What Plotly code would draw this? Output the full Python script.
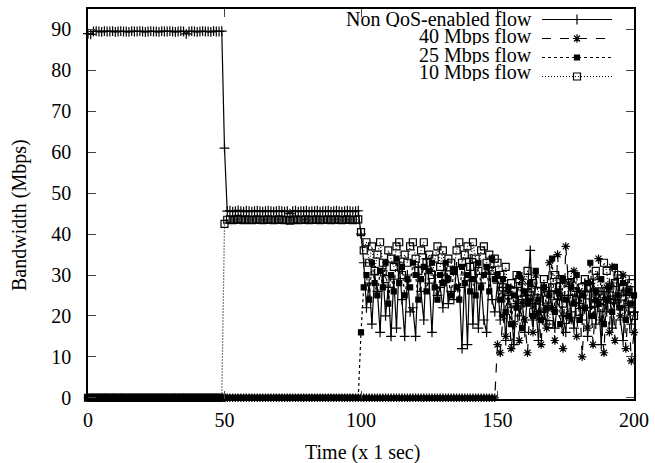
import plotly.graph_objects as go

time_s = list(range(0, 201))

non_qos = [
    89.0, 88.8, 89.5, 89.6, 89.5, 89.4, 89.6, 89.5, 89.5, 89.6,
    89.4, 89.5, 89.6, 89.5, 89.5, 89.4, 89.6, 89.5, 89.5, 89.6,
    89.5, 89.4, 89.5, 89.6, 89.5, 89.5, 89.4, 89.6, 89.5, 89.5,
    89.6, 89.5, 89.4, 89.5, 89.6, 89.5, 88.9, 89.5, 89.6, 89.5,
    89.4, 89.5, 89.6, 89.5, 89.5, 89.4, 89.6, 89.5, 89.5, 89.6,
    61.0, 45.6, 45.7, 45.5, 45.6, 45.8, 45.6, 45.5, 45.7, 45.6,
    45.5, 45.6, 45.7, 45.6, 45.5, 45.6, 45.7, 45.6, 45.5, 45.6,
    45.7, 45.6, 45.5, 45.6, 45.0, 45.6, 45.7, 45.5, 45.6, 45.6,
    45.7, 45.5, 45.6, 45.6, 45.7, 45.5, 45.6, 45.6, 45.7, 45.5,
    45.6, 45.7, 45.6, 45.5, 45.6, 45.7, 45.6, 45.5, 45.6, 45.7,
    40.0, 33.0, 22.0, 28.0, 18.0, 30.0, 26.0, 16.0, 31.0, 20.0,
    27.0, 15.0, 29.0, 17.0, 33.0, 24.0, 15.0, 30.0, 21.0, 22.0,
    15.0, 32.0, 26.0, 19.0, 34.0, 28.0, 16.0, 30.0, 25.0, 27.0,
    22.0, 31.0, 23.0, 26.0, 24.0, 32.0, 27.0, 12.0, 30.0, 13.0,
    34.0, 18.0, 33.0, 17.0, 28.0, 19.0, 16.0, 31.0, 24.0, 21.0,
    28.0, 19.0, 27.0, 14.0, 25.0, 22.0, 13.0, 27.0, 20.0, 24.0,
    16.0, 25.0, 36.0, 19.0, 23.0, 14.0, 27.0, 21.0, 18.0, 26.0,
    22.0, 17.0, 24.0, 28.0, 20.0, 16.0, 25.0, 21.0, 17.0, 26.0,
    23.0, 19.0, 28.0, 15.0, 22.0, 29.0, 18.0, 24.0, 13.0, 26.0,
    21.0, 28.0, 17.0, 24.0, 30.0, 19.0, 14.0, 25.0, 22.0, 18.0,
    21.0,
]

flow_40 = [
    0, 0, 0, 0, 0, 0, 0, 0, 0, 0,
    0, 0, 0, 0, 0, 0, 0, 0, 0, 0,
    0, 0, 0, 0, 0, 0, 0, 0, 0, 0,
    0, 0, 0, 0, 0, 0, 0, 0, 0, 0,
    0, 0, 0, 0, 0, 0, 0, 0, 0, 0,
    0, 0, 0, 0, 0, 0, 0, 0, 0, 0,
    0, 0, 0, 0, 0, 0, 0, 0, 0, 0,
    0, 0, 0, 0, 0, 0, 0, 0, 0, 0,
    0, 0, 0, 0, 0, 0, 0, 0, 0, 0,
    0, 0, 0, 0, 0, 0, 0, 0, 0, 0,
    0, 0, 0, 0, 0, 0, 0, 0, 0, 0,
    0, 0, 0, 0, 0, 0, 0, 0, 0, 0,
    0, 0, 0, 0, 0, 0, 0, 0, 0, 0,
    0, 0, 0, 0, 0, 0, 0, 0, 0, 0,
    0, 0, 0, 0, 0, 0, 0, 0, 0, 0,
    13.0, 11.0, 20.0, 15.0, 26.0, 12.0, 18.0, 23.0, 14.0, 29.0,
    19.0, 11.0, 24.0, 16.0, 30.0, 21.0, 13.0, 27.0, 17.0, 33.0,
    22.0, 14.0, 35.0, 25.0, 12.0, 37.0, 28.0, 19.0, 31.0, 15.0,
    26.0, 10.0, 22.0, 17.0, 28.0, 13.0, 24.0, 34.0, 19.0, 11.0,
    27.0, 16.0, 32.0, 14.0, 25.0, 20.0, 30.0, 12.0, 23.0, 9.0,
    16.0,
]

flow_25 = [
    0, 0, 0, 0, 0, 0, 0, 0, 0, 0,
    0, 0, 0, 0, 0, 0, 0, 0, 0, 0,
    0, 0, 0, 0, 0, 0, 0, 0, 0, 0,
    0, 0, 0, 0, 0, 0, 0, 0, 0, 0,
    0, 0, 0, 0, 0, 0, 0, 0, 0, 0,
    0, 0, 0, 0, 0, 0, 0, 0, 0, 0,
    0, 0, 0, 0, 0, 0, 0, 0, 0, 0,
    0, 0, 0, 0, 0, 0, 0, 0, 0, 0,
    0, 0, 0, 0, 0, 0, 0, 0, 0, 0,
    0, 0, 0, 0, 0, 0, 0, 0, 0, 0,
    16.0, 27.0, 30.0, 24.0, 33.0, 28.0, 25.0, 31.0, 27.0, 33.0,
    23.0, 30.0, 26.0, 34.0, 28.0, 32.0, 25.0, 29.0, 27.0, 33.0,
    30.0, 24.0, 29.0, 32.0, 26.0, 31.0, 33.0, 27.0, 24.0, 30.0,
    28.0, 33.0, 29.0, 25.0, 31.0, 27.0, 24.0, 32.0, 28.0, 30.0,
    26.0, 29.0, 25.0, 33.0, 27.0, 30.0, 32.0, 26.0, 34.0, 29.0,
    30.0, 24.0, 29.0, 21.0, 27.0, 18.0, 25.0, 22.0, 30.0, 17.0,
    26.0, 23.0, 28.0, 20.0, 31.0, 24.0, 19.0, 27.0, 22.0, 25.0,
    34.0, 21.0, 26.0, 18.0, 29.0, 24.0, 20.0, 27.0, 23.0, 30.0,
    19.0, 25.0, 22.0, 28.0, 33.0, 20.0, 26.0, 23.0, 29.0, 18.0,
    24.0, 27.0, 21.0, 32.0, 25.0, 22.0, 28.0, 19.0, 26.0, 23.0,
    25.0,
]

flow_10 = [
    0, 0, 0, 0, 0, 0, 0, 0, 0, 0,
    0, 0, 0, 0, 0, 0, 0, 0, 0, 0,
    0, 0, 0, 0, 0, 0, 0, 0, 0, 0,
    0, 0, 0, 0, 0, 0, 0, 0, 0, 0,
    0, 0, 0, 0, 0, 0, 0, 0, 0, 0,
    42.5, 43.5, 43.6, 43.4, 43.5, 43.7, 43.5, 43.4, 43.6, 43.5,
    43.4, 43.5, 43.6, 43.5, 43.4, 43.5, 43.6, 43.5, 43.4, 43.5,
    43.6, 43.5, 43.4, 43.5, 43.3, 43.5, 43.6, 43.4, 43.5, 43.5,
    43.6, 43.4, 43.5, 43.5, 43.6, 43.4, 43.5, 43.5, 43.6, 43.4,
    43.5, 43.6, 43.5, 43.4, 43.5, 43.6, 43.5, 43.4, 43.5, 43.6,
    40.5, 36.0, 38.0, 33.0, 37.0, 31.0, 35.0, 38.0, 33.0, 29.0,
    36.0, 34.0, 32.0, 37.0, 38.0, 30.0, 35.0, 33.0, 37.0, 38.0,
    34.0, 31.0, 36.0, 38.0, 33.0, 35.0, 30.0, 34.0, 37.0, 32.0,
    36.0, 29.0, 34.0, 33.0, 31.0, 36.0, 38.0, 33.0, 35.0, 37.0,
    32.0, 38.0, 34.0, 31.0, 36.0, 37.0, 33.0, 35.0, 31.0, 34.0,
    33.0, 30.0, 27.0, 32.0, 25.0, 28.0, 26.0, 30.0, 29.0, 24.0,
    27.0, 31.0, 25.0, 28.0, 22.0, 26.0, 20.0, 29.0, 24.0, 18.0,
    27.0, 30.0, 25.0, 29.0, 23.0, 19.0, 28.0, 30.0, 26.0, 24.0,
    21.0, 27.0, 29.0, 25.0, 27.0, 23.0, 31.0, 26.0, 22.0, 33.0,
    31.0, 25.0, 24.0, 28.0, 30.0, 23.0, 27.0, 29.0, 26.0, 28.0,
    20.0,
]

series_names = ["Non QoS-enabled flow", "40 Mbps flow", "25 Mbps flow", "10 Mbps flow"]
x_ticks = [0, 50, 100, 150, 200]
y_ticks = [0, 10, 20, 30, 40, 50, 60, 70, 80, 90]

FONT = "Liberation Serif, Times New Roman, serif"

# plot-area geometry in pixels (left, right, top, bottom)
PL, PR, PT, PB = 88, 634, 9, 399
W, H = 655, 463


def px_to_paper_x(px):
    return (px - PL) / (PR - PL)


def px_to_paper_y(py):
    return 1 - (py - PT) / (PB - PT)


styles = [
    dict(dash="solid", symbol="cross-thin-open", size=7),
    dict(dash="dash", symbol="asterisk-open", size=7),
    dict(dash="dot", symbol="square", size=5),
    dict(dash="1px,2px", symbol="square-open", size=7),
]

fig = go.Figure()
for name, ys, st in zip(series_names, [non_qos, flow_40, flow_25, flow_10], styles):
    fig.add_trace(go.Scatter(
        x=time_s, y=ys, mode="lines+markers", name=" ",
        line=dict(color="black", width=1.2, dash=st["dash"]),
        marker=dict(symbol=st["symbol"], size=st["size"], color="black",
                    line=dict(color="black", width=1.2)),
        cliponaxis=False,
    ))

# legend labels as right-aligned text (gnuplot style: text left of sample)
legend_y = [18, 37, 55, 73]
for name, py in zip(series_names, legend_y):
    fig.add_annotation(
        text=name, xref="paper", yref="paper",
        x=px_to_paper_x(533), y=px_to_paper_y(py),
        xanchor="right", yanchor="middle", showarrow=False,
        height=17, valign="middle", borderpad=0,
        font=dict(family=FONT, size=20, color="black"),
    )

# axis titles
fig.add_annotation(
    text="Time (x 1 sec)", xref="paper", yref="paper",
    x=px_to_paper_x(362), y=px_to_paper_y(452),
    xanchor="center", yanchor="middle", showarrow=False,
    font=dict(family=FONT, size=20, color="black"),
)
fig.add_annotation(
    text="Bandwidth (Mbps)", xref="paper", yref="paper",
    x=px_to_paper_x(19), y=px_to_paper_y(215), textangle=-90,
    xanchor="center", yanchor="middle", showarrow=False,
    font=dict(family=FONT, size=20, color="black"),
)

fig.update_layout(
    width=W, height=H,
    margin=dict(l=PL, r=W - PR, t=PT, b=H - PB, autoexpand=False),
    paper_bgcolor="white", plot_bgcolor="white",
    font=dict(family=FONT, size=20, color="black"),
    showlegend=True,
    legend=dict(
        x=px_to_paper_x(537), y=px_to_paper_y(5),
        xanchor="left", yanchor="top",
        font=dict(family=FONT, size=11.5), itemwidth=70,
        bgcolor="rgba(0,0,0,0)", tracegroupgap=0,
    ),
)
fig.update_xaxes(
    range=[0, 200], tickvals=x_ticks, ticks="inside", ticklen=8, tickwidth=1.3,
    showline=True, linecolor="black", linewidth=1.5, mirror="ticks",
    showgrid=False, zeroline=False, automargin=False,
    tickfont=dict(size=20), ticklabelstandoff=2,
)
fig.update_yaxes(
    range=[-0.3, 95], tickvals=y_ticks, ticks="inside", ticklen=8, tickwidth=1.3,
    showline=True, linecolor="black", linewidth=1.5, mirror="ticks",
    showgrid=False, zeroline=False, automargin=False,
    tickfont=dict(size=20), ticklabelstandoff=11,
)

fig.write_html(
    "out.html",
    config={"displayModeBar": False},
    post_script="document.body.style.margin='0px';document.body.style.padding='0px';",
)
